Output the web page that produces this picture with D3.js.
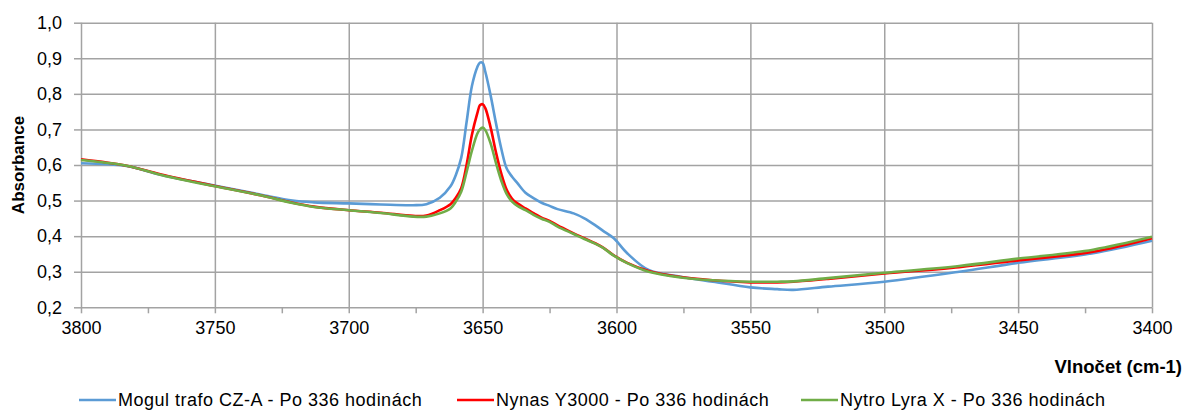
<!DOCTYPE html>
<html>
<head>
<meta charset="utf-8">
<script src="https://d3js.org/d3.v7.min.js"></script>
<style>
  body { margin: 0; background: #fff; }
  text { font-family: "Liberation Sans", Arial, sans-serif; fill: #000; }
  .grid line { stroke: #a3a3a3; stroke-width: 1.5px; }
  .grid path { display: none; }
  .axis path { display: none; }
  .axis line { stroke: #a3a3a3; stroke-width: 1.5px; }
  .series { fill: none; stroke-width: 2.6px; stroke-linejoin: round; }
</style>
</head>
<body>
<div id="chart"></div>
<script>
// wavenumbers (cm-1) shared by all three spectra
var wavenumbers = [3800, 3783, 3770, 3750, 3733, 3721, 3713, 3700, 3688, 3676, 3671, 3666, 3662, 3660, 3658, 3656,
  3654, 3652, 3651, 3650, 3649, 3647, 3645, 3643, 3641, 3639, 3637, 3634, 3631, 3628, 3625, 3622,
  3616, 3612, 3608, 3605, 3601, 3596, 3588, 3576, 3564, 3550, 3540, 3534, 3521, 3500, 3472, 3450, 3422, 3400];

var mogul = [0.605, 0.597, 0.572, 0.542, 0.517, 0.500, 0.495, 0.492, 0.489, 0.487, 0.490, 0.508, 0.540, 0.572, 0.620, 0.720,
  0.822, 0.875, 0.888, 0.887, 0.862, 0.795, 0.717, 0.645, 0.590, 0.567, 0.549, 0.522, 0.507, 0.494, 0.485, 0.476,
  0.464, 0.450, 0.431, 0.415, 0.394, 0.352, 0.305, 0.286, 0.272, 0.256, 0.251, 0.249, 0.258, 0.272, 0.300, 0.325, 0.352, 0.387];

var nynas = [0.616, 0.598, 0.573, 0.541, 0.515, 0.494, 0.483, 0.473, 0.466, 0.457, 0.458, 0.473, 0.490, 0.508, 0.535, 0.600,
  0.685, 0.745, 0.768, 0.771, 0.760, 0.705, 0.635, 0.575, 0.530, 0.505, 0.492, 0.478, 0.465, 0.452, 0.443, 0.430,
  0.408, 0.394, 0.380, 0.368, 0.346, 0.325, 0.302, 0.285, 0.276, 0.270, 0.270, 0.272, 0.280, 0.295, 0.313, 0.332, 0.356, 0.394];

var nytro = [0.614, 0.598, 0.572, 0.540, 0.515, 0.493, 0.482, 0.473, 0.465, 0.455, 0.455, 0.464, 0.478, 0.497, 0.525, 0.580,
  0.640, 0.688, 0.700, 0.705, 0.698, 0.660, 0.605, 0.555, 0.518, 0.497, 0.485, 0.473, 0.460, 0.449, 0.440, 0.427,
  0.406, 0.392, 0.379, 0.367, 0.345, 0.324, 0.300, 0.284, 0.276, 0.272, 0.272, 0.273, 0.282, 0.297, 0.316, 0.337, 0.362, 0.398];

var seriesNames = ["Mogul trafo CZ-A - Po 336 hodinách", "Nynas Y3000 - Po 336 hodinách", "Nytro Lyra X - Po 336 hodinách"];
var seriesColors = ["#5b9bd5", "#ff0000", "#70ad47"];

var yTicks = [0.2, 0.3, 0.4, 0.5, 0.6, 0.7, 0.8, 0.9, 1.0];
var xTicks = [3800, 3750, 3700, 3650, 3600, 3550, 3500, 3450, 3400];
var xMinorTicks = [3775, 3725, 3675, 3625, 3575, 3525, 3475, 3425];

var width = 1185,
    height = 410;

var plotLeft = 81, plotRight = 1152, plotTop = 22.7, plotBottom = 307.3;

var svg = d3.select("#chart")
    .append("svg")
    .attr("width", width)
    .attr("height", height);

var x = d3.scaleLinear().domain([3800, 3400]).range([plotLeft, plotRight]);
var y = d3.scaleLinear().domain([0.2, 1.0]).range([plotBottom, plotTop]);

var comma = function(d) { return d3.format(".1f")(d).replace(".", ","); };

// grid
svg.append("g")
    .attr("class", "grid")
    .attr("transform", "translate(" + plotLeft + ",0)")
    .call(d3.axisLeft(y).tickValues(yTicks).tickSize(-(plotRight - plotLeft)).tickFormat(""));

svg.append("g")
    .attr("class", "grid")
    .attr("transform", "translate(0," + plotBottom + ")")
    .call(d3.axisBottom(x).tickValues(xTicks).tickSize(-(plotBottom - plotTop)).tickFormat(""));

// axes
svg.append("g")
    .attr("class", "axis")
    .attr("transform", "translate(" + plotLeft + ",0)")
    .call(d3.axisLeft(y).tickValues(yTicks).tickSize(7).tickPadding(12).tickFormat(comma))
    .selectAll("text")
    .style("font-size", "18px");

svg.append("g")
    .attr("class", "axis")
    .attr("transform", "translate(0," + plotBottom + ")")
    .call(d3.axisBottom(x).tickValues(xTicks.concat(xMinorTicks)).tickSize(6).tickPadding(8)
      .tickFormat(function(d) { return xTicks.indexOf(d) >= 0 ? d : ""; }))
    .selectAll("text")
    .style("font-size", "18px");

// series
var line = d3.line()
    .curve(d3.curveCatmullRom.alpha(0.5))
    .x(function(d) { return x(d[0]); })
    .y(function(d) { return y(d[1]); });

[mogul, nynas, nytro].forEach(function(values, i) {
  svg.append("path")
      .datum(wavenumbers.map(function(w, j) { return [w, values[j]]; }))
      .attr("class", "series")
      .attr("stroke", seriesColors[i])
      .attr("d", line);
});

// axis titles
svg.append("text")
    .attr("transform", "translate(24," + ((plotTop + plotBottom) / 2) + ") rotate(-90)")
    .attr("text-anchor", "middle")
    .style("font-size", "17px")
    .style("font-weight", "bold")
    .text("Absorbance");

svg.append("text")
    .attr("x", 1182)
    .attr("y", 373)
    .attr("text-anchor", "end")
    .style("font-size", "18.5px")
    .style("font-weight", "bold")
    .text("Vlnočet (cm-1)");

// legend
var legendX = [79, 457, 801];
var legend = svg.selectAll(".legend")
    .data(seriesNames)
  .enter().append("g")
    .attr("class", "legend")
    .attr("transform", function(d, i) { return "translate(" + legendX[i] + ",400)"; });

legend.append("line")
    .attr("x1", 0).attr("x2", 37)
    .attr("stroke", function(d, i) { return seriesColors[i]; })
    .attr("stroke-width", 2.5);

legend.append("text")
    .attr("x", 39)
    .attr("y", 6)
    .style("font-size", "18px")
    .style("letter-spacing", "0.5px")
    .text(function(d) { return d; });
</script>
</body>
</html>
